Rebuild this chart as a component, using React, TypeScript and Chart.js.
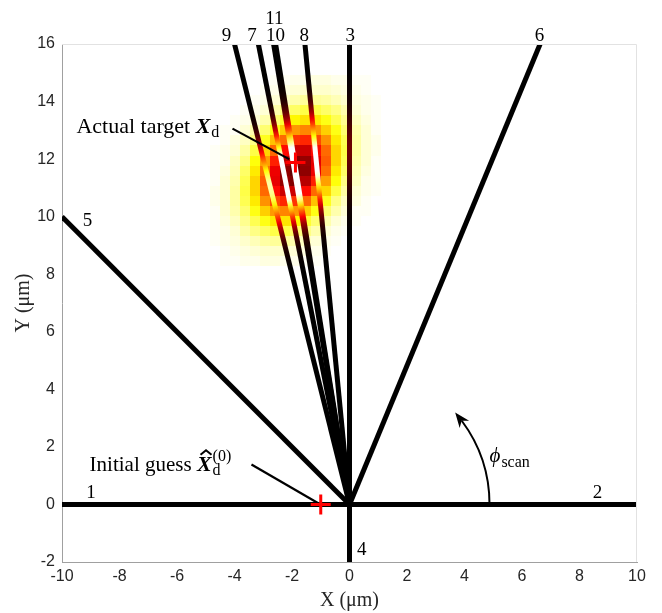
import { useEffect, useRef } from 'react';
import { Chart, registerables } from 'chart.js';

Chart.register(...registerables);

// ---------- axes ----------
const X_MIN = -10;
const X_MAX = 10;
const X_STEP = 2;
const Y_MIN = -2;
const Y_MAX = 16;
const Y_STEP = 2;
const X_TITLE = 'X (μm)';
const Y_TITLE = 'Y (μm)';

// ---------- scan lines (all start at the origin) ----------
const SCAN_IDS = ['1', '2', '3', '4', '5', '6', '7', '8', '9', '10', '11'];
const SCAN_END_X = [-10, 10, 0, 0, -10, 6.63, -3.17, -1.55, -4.0, -2.64, -2.57];
const SCAN_END_Y = [0, 0, 16, -2, 10, 16, 16, 16, 16, 16, 16];
const SCAN_LABEL_X = [-8.99, 8.63, 0.03, 0.43, -9.11, 6.61, -3.39, -1.57, -4.28, -2.57, -2.61];
const SCAN_LABEL_Y = [0.24, 0.24, 16.12, -1.77, 9.66, 16.12, 16.12, 16.12, 16.12, 16.12, 16.71];

// ---------- markers ----------
const TARGET = { x: -1.88, y: 11.88 };
const INITIAL = { x: -1, y: 0 };

// ---------- annotations (data units) ----------
const ACTUAL_TEXT_AT = [-9.5, 12.89];
const ACTUAL_LEADER = [[-4.07, 13.06], [-2.1, 12.0]];
const INITIAL_TEXT_AT = [-9.04, 1.15];
const INITIAL_LEADER = [[-3.41, 1.39], [-1.1, 0.05]];
const PHI_TEXT_AT = [4.87, 1.46];
const ARC_RADIUS = 4.87;
const ARC_END_DEG = 41;

// ---------- likelihood map (cell centres, values in %) ----------
const HEAT_X = [-4.68, -4.33, -3.98, -3.63, -3.28, -2.93, -2.58, -2.23, -1.88, -1.53, -1.18, -0.83, -0.48, -0.13, 0.22, 0.57, 0.92];
const HEAT_Y = [14.75, 14.4, 14.05, 13.7, 13.35, 13.0, 12.65, 12.3, 11.95, 11.6, 11.25, 10.9, 10.55, 10.2, 9.85, 9.5, 9.15, 8.8, 8.45];
const HEAT_ROWS = [
  [0, 0, 0, 0, 0, 0, 1, 1, 2, 2, 3, 3, 2, 2, 1, 1, 0],
  [0, 0, 0, 0, 0, 1, 2, 3, 4, 5, 5, 5, 4, 3, 2, 1, 0],
  [0, 0, 0, 0, 1, 2, 4, 6, 8, 10, 10, 9, 7, 5, 3, 2, 1],
  [0, 0, 0, 1, 2, 4, 8, 12, 15, 18, 18, 15, 12, 8, 4, 2, 1],
  [0, 0, 1, 2, 4, 8, 14, 20, 26, 29, 28, 23, 17, 11, 6, 3, 1],
  [0, 1, 1, 4, 8, 14, 23, 32, 40, 43, 40, 32, 23, 14, 8, 4, 1],
  [0, 1, 3, 6, 12, 22, 34, 47, 55, 57, 52, 41, 28, 17, 9, 4, 2],
  [1, 2, 4, 9, 18, 31, 47, 61, 70, 70, 61, 47, 31, 18, 9, 4, 2],
  [1, 2, 6, 12, 24, 39, 58, 73, 81, 78, 66, 49, 31, 17, 8, 4, 1],
  [1, 3, 7, 15, 28, 46, 65, 79, 85, 79, 65, 46, 28, 15, 7, 3, 1],
  [1, 4, 8, 17, 31, 49, 66, 78, 81, 73, 58, 39, 24, 12, 6, 2, 1],
  [2, 4, 9, 18, 31, 47, 61, 70, 70, 61, 47, 31, 18, 9, 4, 2, 1],
  [2, 4, 9, 17, 28, 41, 52, 57, 55, 47, 34, 22, 12, 6, 3, 1, 0],
  [1, 4, 8, 14, 23, 32, 40, 43, 40, 32, 23, 14, 8, 4, 1, 1, 0],
  [1, 3, 6, 11, 17, 23, 28, 29, 26, 20, 14, 8, 4, 2, 1, 0, 0],
  [1, 2, 4, 8, 12, 15, 18, 18, 15, 12, 8, 4, 2, 1, 0, 0, 0],
  [1, 2, 3, 5, 7, 9, 10, 10, 8, 6, 4, 2, 1, 0, 0, 0, 0],
  [0, 1, 2, 3, 4, 5, 5, 5, 4, 3, 2, 1, 0, 0, 0, 0, 0],
  [0, 1, 1, 2, 2, 3, 3, 2, 2, 1, 1, 0, 0, 0, 0, 0, 0],
];

const SERIF = '"Liberation Serif", "Times New Roman", serif';
const SANS = '"Liberation Sans", Arial, sans-serif';

const HEAT_MAX = Math.max(...HEAT_ROWS.map((r) => Math.max(...r)));

function clamp01(v: number) {
  return Math.max(0, Math.min(1, v));
}
function hot(t: number): string {
  const r = clamp01(t / 0.375);
  const g = clamp01((t - 0.375) / 0.375);
  const b = clamp01((t - 0.75) / 0.25);
  return `rgb(${Math.round(r * 255)},${Math.round(g * 255)},${Math.round(b * 255)})`;
}
function heatAt(r: number, c: number) {
  if (r < 0 || r >= HEAT_ROWS.length || c < 0 || c >= HEAT_X.length) return 0;
  return HEAT_ROWS[r][c];
}
function sampleHeat(x: number, y: number) {
  const dx = HEAT_X[1] - HEAT_X[0];
  const dy = HEAT_Y[0] - HEAT_Y[1];
  const fc = (x - HEAT_X[0]) / dx;
  const fr = (HEAT_Y[0] - y) / dy;
  const c0 = Math.floor(fc);
  const r0 = Math.floor(fr);
  const tc = fc - c0;
  const tr = fr - r0;
  return (
    heatAt(r0, c0) * (1 - tc) * (1 - tr) +
    heatAt(r0, c0 + 1) * tc * (1 - tr) +
    heatAt(r0 + 1, c0) * (1 - tc) * tr +
    heatAt(r0 + 1, c0 + 1) * tc * tr
  );
}

function lineGradient(chart: any, k: number) {
  if (!chart.chartArea || !chart.scales.x || !chart.scales.y) return '#000';
  const xs = chart.scales.x;
  const ys = chart.scales.y;
  const x0 = xs.getPixelForValue(0);
  const y0 = ys.getPixelForValue(0);
  const x1 = xs.getPixelForValue(SCAN_END_X[k]);
  const y1 = ys.getPixelForValue(SCAN_END_Y[k]);
  if (!isFinite(x0) || !isFinite(x1) || !isFinite(y0) || !isFinite(y1)) return '#000';
  const g = chart.ctx.createLinearGradient(x0, y0, x1, y1);
  const N = 80;
  for (let s = 0; s <= N; s++) {
    const t = s / N;
    const v = sampleHeat(t * SCAN_END_X[k], t * SCAN_END_Y[k]) / HEAT_MAX;
    const w = Math.min(1, 1.6 * Math.pow(Math.max(v, 0), 1.3));
    g.addColorStop(t, hot(w));
  }
  return g;
}

const decorPlugin = {
  id: 'decor',
  beforeDatasetsDraw(chart: any) {
    const { ctx, chartArea: a } = chart;
    const xs = chart.scales.x;
    const ys = chart.scales.y;
    ctx.save();
    ctx.beginPath();
    ctx.rect(a.left, a.top, a.right - a.left, a.bottom - a.top);
    ctx.clip();
    const hx = (HEAT_X[1] - HEAT_X[0]) / 2;
    const hy = (HEAT_Y[0] - HEAT_Y[1]) / 2;
    HEAT_ROWS.forEach((row, r) =>
      row.forEach((val, c) => {
        if (val <= 0) return;
        const l = Math.round(xs.getPixelForValue(HEAT_X[c] - hx));
        const rr = Math.round(xs.getPixelForValue(HEAT_X[c] + hx));
        const t = Math.round(ys.getPixelForValue(HEAT_Y[r] + hy));
        const b = Math.round(ys.getPixelForValue(HEAT_Y[r] - hy));
        ctx.fillStyle = hot(1 - val / 100);
        ctx.fillRect(l, t, rr - l, b - t);
      })
    );
    ctx.restore();
  },
  afterDatasetDraw(chart: any, args: any) {
    if (args.index !== 1) return;
    const { ctx } = chart;
    const px = (v: number) => chart.scales.x.getPixelForValue(v);
    const py = (v: number) => chart.scales.y.getPixelForValue(v);
    ctx.save();
    ctx.strokeStyle = '#000';
    ctx.lineWidth = 2.2;
    for (const seg of [ACTUAL_LEADER, INITIAL_LEADER]) {
      ctx.beginPath();
      ctx.moveTo(px(seg[0][0]), py(seg[0][1]));
      ctx.lineTo(px(seg[1][0]), py(seg[1][1]));
      ctx.stroke();
    }
    ctx.restore();
  },
  afterDraw(chart: any) {
    const { ctx, chartArea: a } = chart;
    const px = (v: number) => chart.scales.x.getPixelForValue(v);
    const py = (v: number) => chart.scales.y.getPixelForValue(v);
    ctx.save();
    // light top / right box edges
    ctx.strokeStyle = '#e2e2e2';
    ctx.lineWidth = 1;
    ctx.beginPath();
    ctx.moveTo(a.left, a.top + 0.5);
    ctx.lineTo(a.right - 0.5, a.top + 0.5);
    ctx.lineTo(a.right - 0.5, a.bottom);
    ctx.stroke();

    ctx.fillStyle = '#000';
    ctx.textBaseline = 'alphabetic';

    // scan line numbers
    ctx.font = `19px ${SERIF}`;
    ctx.textAlign = 'center';
    SCAN_IDS.forEach((id, k) => {
      ctx.fillText(id, px(SCAN_LABEL_X[k]), py(SCAN_LABEL_Y[k]));
    });

    // axis titles
    ctx.fillStyle = '#262626';
    ctx.font = `20px ${SERIF}`;
    ctx.textAlign = 'center';
    ctx.fillText(X_TITLE, (a.left + a.right) / 2, 606);
    ctx.save();
    ctx.translate(29, (a.top + a.bottom) / 2);
    ctx.rotate(-Math.PI / 2);
    ctx.fillText(Y_TITLE, 0, 0);
    ctx.restore();

    ctx.fillStyle = '#000';
    ctx.strokeStyle = '#000';
    ctx.textAlign = 'left';

    // Actual target X_d
    {
      const x = px(ACTUAL_TEXT_AT[0]);
      const y = py(ACTUAL_TEXT_AT[1]);
      ctx.font = `22px ${SERIF}`;
      const s = 'Actual target ';
      ctx.fillText(s, x, y);
      let w = ctx.measureText(s).width;
      ctx.font = `italic bold 22px ${SERIF}`;
      ctx.fillText('X', x + w, y);
      w += ctx.measureText('X').width;
      ctx.font = `16px ${SERIF}`;
      ctx.fillText('d', x + w + 1, y + 4);
    }
    // Initial guess X^_d^(0)
    {
      const x = px(INITIAL_TEXT_AT[0]);
      const y = py(INITIAL_TEXT_AT[1]);
      ctx.font = `21px ${SERIF}`;
      const s = 'Initial guess ';
      ctx.fillText(s, x, y);
      let w = ctx.measureText(s).width;
      ctx.font = `italic bold 22px ${SERIF}`;
      ctx.fillText('X', x + w, y);
      const wx = ctx.measureText('X').width;
      // hat
      const hc = x + w + wx * 0.62;
      ctx.beginPath();
      ctx.lineWidth = 2;
      ctx.moveTo(hc - 5.5, y - 16.5);
      ctx.lineTo(hc, y - 21);
      ctx.lineTo(hc + 5.5, y - 16.5);
      ctx.stroke();
      w += wx;
      ctx.font = `16px ${SERIF}`;
      ctx.fillText('d', x + w + 1, y + 4);
      ctx.font = `16px ${SERIF}`;
      ctx.fillText('(0)', x + w + 1, y - 10);
    }
    // phi_scan
    {
      const x = px(PHI_TEXT_AT[0]);
      const y = py(PHI_TEXT_AT[1]);
      ctx.font = `italic 21px ${SERIF}`;
      ctx.fillText('ϕ', x, y);
      const w = ctx.measureText('ϕ').width;
      ctx.font = `16px ${SERIF}`;
      ctx.fillText('scan', x + w + 1, y + 5);
    }

    // arc arrow
    {
      const cx = px(0);
      const cy = py(0);
      const r = px(ARC_RADIUS) - cx;
      const th = (ARC_END_DEG * Math.PI) / 180;
      const tipX = cx + r * Math.cos(th);
      const tipY = cy - r * Math.sin(th);
      const L = 15;
      const W = 6;
      const stopAng = th - (L * 0.7) / r;
      ctx.lineWidth = 2;
      ctx.beginPath();
      ctx.arc(cx, cy, r, 0, -stopAng, true);
      ctx.stroke();
      const thb = th - L / r;
      const bx = cx + r * Math.cos(thb);
      const by = cy - r * Math.sin(thb);
      const ux = tipX - bx;
      const uy = tipY - by;
      const ul = Math.hypot(ux, uy);
      const nx = -uy / ul;
      const ny = ux / ul;
      const nbx = tipX - (ux / ul) * L * 0.7;
      const nby = tipY - (uy / ul) * L * 0.7;
      ctx.beginPath();
      ctx.moveTo(tipX, tipY);
      ctx.lineTo(bx + nx * W, by + ny * W);
      ctx.lineTo(nbx, nby);
      ctx.lineTo(bx - nx * W, by - ny * W);
      ctx.closePath();
      ctx.fill();
    }
    ctx.restore();
  },
};

export default function App() {
  const ref = useRef<HTMLCanvasElement>(null);
  useEffect(() => {
    const canvas = ref.current;
    if (!canvas) return;
    const datasets: any[] = [
      {
        label: 'markers',
        data: [TARGET, INITIAL],
        showLine: false,
        pointStyle: 'cross',
        pointRadius: 10,
        pointHoverRadius: 10,
        pointBorderWidth: 3,
        pointBorderColor: '#ff0000',
        pointBackgroundColor: '#ff0000',
      },
      ...SCAN_IDS.map((id, k) => ({
        label: 'scan ' + id,
        data: [
          { x: 0, y: 0 },
          { x: SCAN_END_X[k], y: SCAN_END_Y[k] },
        ],
        showLine: true,
        borderWidth: 5,
        borderCapStyle: 'butt',
        pointRadius: 0,
        pointHoverRadius: 0,
        clip: 0,
        borderColor: (c: any) => lineGradient(c.chart, k),
      })),
    ];
    const chart = new Chart(canvas, {
      type: 'scatter',
      data: { datasets },
      options: {
        responsive: false,
        animation: false,
        maintainAspectRatio: false,
        events: [],
        layout: { padding: { top: 44, right: 25, left: 0, bottom: 0 } },
        plugins: { legend: { display: false }, tooltip: { enabled: false } },
        scales: {
          x: {
            type: 'linear',
            min: X_MIN,
            max: X_MAX,
            grid: { display: false, drawTicks: false },
            border: { display: true, color: '#a0a0a0', width: 1 },
            ticks: {
              stepSize: X_STEP,
              padding: 5,
              color: '#262626',
              font: { family: SANS, size: 16 },
              maxRotation: 0,
              autoSkip: false,
            },
            afterFit: (s: any) => {
              s.height = 51;
            },
          },
          y: {
            type: 'linear',
            min: Y_MIN,
            max: Y_MAX,
            grid: { display: false, drawTicks: false },
            border: { display: true, color: '#a0a0a0', width: 1 },
            ticks: {
              stepSize: Y_STEP,
              padding: 7,
              color: '#262626',
              font: { family: SANS, size: 16 },
              autoSkip: false,
            },
            afterFit: (s: any) => {
              s.width = 62;
            },
          },
        },
      } as any,
      plugins: [decorPlugin],
    });
    return () => chart.destroy();
  }, []);
  return (
    <div style={{ position: 'absolute', left: 0, top: 0, width: 662, height: 613, background: '#fff' }}>
      <canvas ref={ref} width={662} height={613} style={{ display: 'block', width: 662, height: 613 }} />
    </div>
  );
}
